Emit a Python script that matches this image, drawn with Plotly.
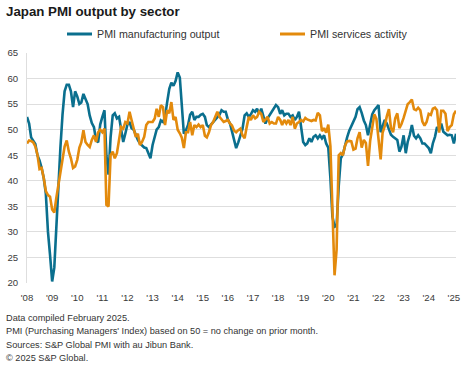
import pandas as pd
import plotly.graph_objects as go

months = pd.date_range("2008-01-01", "2025-02-01", freq="MS")

mfg_output = [
    52.5, 51.2, 48.5, 47.8, 47.2, 45.0, 44.0, 42.5, 40.5, 37.5, 30.0, 25.5,
    20.3, 23.0, 31.0, 38.0, 46.5, 53.0, 57.5, 58.8, 58.8, 57.5, 54.4, 57.5,
    56.5, 55.0, 55.3, 57.0, 55.8, 55.0, 52.8, 51.3, 50.5, 48.0, 47.5, 51.0,
    52.5, 53.8, 45.0, 41.2, 48.5, 52.8, 53.2, 52.2, 52.5, 50.0, 47.6, 49.2,
    51.0, 51.5, 50.3, 50.0, 48.9, 48.0, 47.3, 46.8, 46.5, 46.4, 45.5, 44.4,
    47.0, 48.9, 50.0, 50.5, 51.8, 51.5, 52.5, 55.4, 58.0, 59.2, 58.6, 59.5,
    61.2, 60.2, 54.7, 49.2, 49.9, 50.9, 52.9, 53.5, 51.9, 52.5, 52.5, 52.9,
    53.1, 52.5, 50.9, 50.5, 51.0, 51.5, 51.9, 52.5, 52.9, 53.8, 53.5, 53.5,
    52.0, 51.2, 49.5, 48.0, 46.4, 47.5, 48.9, 50.2, 52.8, 53.2, 52.5, 53.0,
    53.8, 53.5, 54.1, 53.1, 54.1, 52.5, 51.2, 52.2, 52.8, 53.5, 54.1, 54.8,
    54.4, 53.1, 53.8, 52.8, 53.1, 53.1, 52.5, 52.8, 51.9, 52.5, 53.5, 50.2,
    47.6, 47.0, 47.3, 48.3, 47.6, 48.6, 48.9, 48.3, 48.9, 48.3, 48.9, 47.3,
    46.5, 40.5, 33.0, 31.0, 31.2, 39.0, 44.4, 45.2, 47.0, 48.5, 49.8, 50.6,
    51.5, 52.5, 54.0, 54.4, 53.3, 51.8, 50.9, 48.9, 51.0, 53.0, 53.8, 54.3,
    54.8, 49.5, 50.5, 51.9, 51.2, 50.0, 49.0, 48.6, 48.3, 48.0, 45.7, 46.7,
    48.9, 45.4, 47.6, 49.0, 50.9, 48.8, 48.3, 48.9, 48.3, 47.3, 47.3, 46.8,
    46.4, 45.4, 47.3, 48.6, 50.5, 49.9, 51.2, 49.6, 49.2, 48.9, 49.0, 48.9,
    47.3, 49.2,
]

services_activity = [
    47.3, 47.9, 47.8, 47.5, 46.7, 45.1, 42.3, 42.5, 40.5, 38.0, 37.2, 36.9,
    34.4, 33.8, 36.5, 39.0, 41.2, 44.4, 46.7, 47.9, 45.7, 44.4, 42.5, 42.8,
    44.1, 46.5, 47.5, 49.9, 47.6, 47.0, 46.6, 48.0, 48.9, 47.6, 49.5, 50.0,
    49.5, 50.2, 35.3, 35.0, 45.0, 45.7, 44.4, 45.4, 47.9, 50.5, 50.2, 51.5,
    51.2, 53.5, 51.9, 49.9, 48.6, 49.2, 47.0, 47.6, 48.6, 50.9, 51.5, 51.5,
    51.5, 52.2, 54.1, 52.5, 54.8, 54.4, 50.9, 53.8, 53.2, 55.4, 51.9, 52.5,
    50.0, 49.3, 48.5, 46.4, 49.5, 49.5, 51.5, 48.9, 50.9, 50.5, 51.0, 50.5,
    50.9, 48.8, 48.5, 49.5, 50.9, 51.5, 52.5, 53.5, 52.5, 51.9, 51.5, 51.7,
    51.9, 51.2, 50.8, 49.8, 49.5, 49.9, 50.2, 48.9, 48.3, 50.5, 52.5, 51.9,
    52.8, 52.2, 52.5, 53.5, 53.1, 51.5, 51.9, 52.5, 51.2, 51.5, 51.2, 51.2,
    52.5, 51.9, 50.9, 51.9, 51.2, 51.9, 50.9, 52.5, 50.2, 51.2, 51.5, 51.9,
    51.6, 52.3, 52.0, 51.8, 51.7, 51.9, 51.8, 53.3, 52.8, 49.7, 50.3, 49.4,
    51.0, 46.8, 33.8, 21.5, 26.5, 45.0, 45.4, 45.0, 46.9, 47.7, 47.8, 47.7,
    46.1, 46.3, 48.3, 49.5, 46.5, 48.0, 47.4, 42.9, 47.8, 50.7, 53.0, 52.1,
    47.6, 44.2, 49.4, 50.7, 52.6, 54.0, 50.3, 49.5, 52.2, 53.2, 50.3, 51.1,
    52.3, 54.0, 55.0, 55.4, 55.9, 54.0, 53.8, 54.3, 53.8, 51.6, 50.8, 51.5,
    53.1, 52.9, 54.1, 54.3, 53.8, 49.4, 53.7, 53.7, 53.1, 49.7, 50.5, 50.9,
    53.0, 53.7,
]

series_names = ["PMI manufacturing output", "PMI services activity"]
tick_years = list(range(2008, 2026))
tick_labels = ["'%02d" % (y % 100) for y in tick_years]
y_ticks = [20, 25, 30, 35, 40, 45, 50, 55, 60, 65]

title_text = "Japan PMI output by sector"
footnotes = [
    "Data compiled February 2025.",
    "PMI (Purchasing Managers' Index) based on 50 = no change on prior month.",
    "Sources: S&P Global PMI with au Jibun Bank.",
    "\u00a9 2025 S&P Global.",
]

W, H = 468, 366
ML, MR, MT, MB = 27, 12, 53, 83
PW, PH = W - ML - MR, H - MT - MB

TEAL = "#0a6f8e"
ORANGE = "#e38a0c"
FONT = "Arial, Liberation Sans, sans-serif"


def px_x(px):
    return (px - ML) / PW


def px_y(py):
    return (H - MB - py) / PH


fig = go.Figure()
fig.add_trace(go.Scatter(x=months, y=mfg_output, mode="lines",
                         name=series_names[0],
                         line=dict(color=TEAL, width=2.6)))
fig.add_trace(go.Scatter(x=months, y=services_activity, mode="lines",
                         name=series_names[1],
                         line=dict(color=ORANGE, width=2.6)))

annotations = [dict(text="<b>%s</b>" % title_text, x=px_x(4), y=px_y(12),
                    xref="paper", yref="paper", xanchor="left", yanchor="middle",
                    showarrow=False,
                    font=dict(family=FONT, size=13.3, color="#1a1a1a"))]
for i, t in enumerate(footnotes):
    annotations.append(dict(text=t, x=px_x(4), y=px_y(317.5 + i * 13.6),
                            xref="paper", yref="paper", xanchor="left",
                            yanchor="middle", showarrow=False,
                            font=dict(family=FONT, size=9.2, color="#333333")))

# manual legend
shapes = []
legend_pos = [(67, 92, 95), (280, 305, 308)]
for (x0, x1, xt), name, col in zip(legend_pos, series_names, [TEAL, ORANGE]):
    shapes.append(dict(type="line", xref="paper", yref="paper",
                       x0=px_x(x0), x1=px_x(x1), y0=px_y(34), y1=px_y(34),
                       line=dict(color=col, width=3)))
    annotations.append(dict(text=name, x=px_x(xt), y=px_y(34), xref="paper",
                            yref="paper", xanchor="left", yanchor="middle",
                            showarrow=False,
                            font=dict(family=FONT, size=10.7, color="#333333")))

fig.update_layout(
    width=W, height=H,
    margin=dict(l=ML, r=MR, t=MT, b=MB, autoexpand=False),
    paper_bgcolor="white", plot_bgcolor="white",
    font=dict(family=FONT, size=9.6, color="#444444"),
    showlegend=False,
    annotations=annotations,
    shapes=shapes,
)
fig.update_xaxes(
    range=[months[0], months[-1]],
    tickvals=[pd.Timestamp(year=y, month=1, day=1) for y in tick_years],
    ticktext=tick_labels, showgrid=False, zeroline=False,
    showline=False, ticks="", tickfont=dict(size=9.6, color="#3a3a3a"),
    ticklabelstandoff=7, automargin=False,
)
fig.update_yaxes(
    range=[20, 65], tickvals=y_ticks, showgrid=True, gridcolor="#dedede",
    gridwidth=1, zeroline=False, showline=True, linecolor="#dedede",
    ticks="", tickfont=dict(size=9.6, color="#3a3a3a"), ticklabelstandoff=6,
    automargin=False,
)

fig.write_html(
    "out.html",
    config={"displayModeBar": False},
    post_script="document.body.style.margin='0';document.body.style.overflow='hidden';",
)
